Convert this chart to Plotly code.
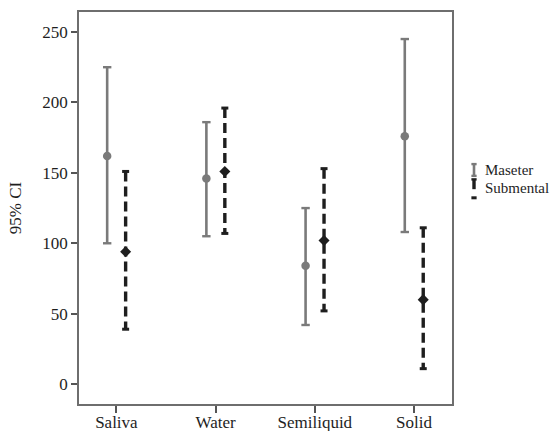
import plotly.graph_objects as go

# Bolus categories and 95% confidence intervals per muscle group
categories = ["Saliva", "Water", "Semiliquid", "Solid"]

maseter_mean = [162, 146, 84, 176]
maseter_low = [100, 105, 42, 108]
maseter_high = [225, 186, 125, 245]

submental_mean = [94, 151, 102, 60]
submental_low = [39, 107, 52, 11]
submental_high = [151, 196, 153, 111]

y_ticks = [0, 50, 100, 150, 200, 250]

GRAY = "#7a7a7a"
BLACK = "#1e1e1e"
FONT = "Liberation Serif"
OFFSET = 0.093  # horizontal shift of each group within a category


def segments(xs, lows, highs):
    """Vertical CI segments (top to bottom) separated by gaps."""
    px, py = [], []
    for x, lo, hi in zip(xs, lows, highs):
        px += [x, x, None]
        py += [hi, lo, None]
    return px, py


idx = list(range(len(categories)))
x_mas = [i - OFFSET for i in idx]
x_sub = [i + OFFSET for i in idx]

fig = go.Figure()

# Maseter: solid gray bars with caps and circle means
mx, my = segments(x_mas, maseter_low, maseter_high)
fig.add_trace(go.Scatter(x=mx, y=my, mode="lines",
                         line=dict(color=GRAY, width=2.6), showlegend=False,
                         hoverinfo="skip"))
fig.add_trace(go.Scatter(x=x_mas + x_mas, y=maseter_low + maseter_high, mode="markers",
                         marker=dict(symbol="line-ew", size=6,
                                     line=dict(color=GRAY, width=2.4)),
                         showlegend=False, hoverinfo="skip"))
fig.add_trace(go.Scatter(x=x_mas, y=maseter_mean, mode="markers", name="Maseter",
                         marker=dict(symbol="circle", size=8.5, color=GRAY),
                         showlegend=False))

# Submental: dashed black bars with caps and diamond means
sx, sy = segments(x_sub, submental_low, submental_high)
fig.add_trace(go.Scatter(x=sx, y=sy, mode="lines",
                         line=dict(color=BLACK, width=3.4, dash="10px,5px"),
                         showlegend=False, hoverinfo="skip"))
fig.add_trace(go.Scatter(x=x_sub + x_sub, y=submental_low + submental_high, mode="markers",
                         marker=dict(symbol="line-ew", size=5,
                                     line=dict(color=BLACK, width=3)),
                         showlegend=False, hoverinfo="skip"))
fig.add_trace(go.Scatter(x=x_sub, y=submental_mean, mode="markers", name="Submental",
                         marker=dict(symbol="diamond", size=8.5, color=BLACK),
                         showlegend=False))

# Key on the right side
shapes = [
    dict(type="line", xref="paper", yref="paper", x0=1.059, x1=1.059, y0=0.582, y1=0.612,
         line=dict(color=GRAY, width=2.6)),
    dict(type="line", xref="paper", yref="paper", x0=1.052, x1=1.066, y0=0.612, y1=0.612,
         line=dict(color=GRAY, width=2.4)),
    dict(type="line", xref="paper", yref="paper", x0=1.052, x1=1.066, y0=0.582, y1=0.582,
         line=dict(color=GRAY, width=2.4)),
    dict(type="line", xref="paper", yref="paper", x0=1.059, x1=1.059, y0=0.548, y1=0.573,
         line=dict(color=BLACK, width=3.4)),
    dict(type="line", xref="paper", yref="paper", x0=1.052, x1=1.066, y0=0.573, y1=0.573,
         line=dict(color=BLACK, width=2.4)),
    dict(type="line", xref="paper", yref="paper", x0=1.052, x1=1.066, y0=0.526, y1=0.526,
         line=dict(color=BLACK, width=3)),
]
annotations = [
    dict(text="Maseter", xref="paper", yref="paper", x=1.082, y=0.597,
         xanchor="left", yanchor="middle", showarrow=False,
         font=dict(family=FONT, size=15, color=BLACK)),
    dict(text="Submental", xref="paper", yref="paper", x=1.082, y=0.551,
         xanchor="left", yanchor="middle", showarrow=False,
         font=dict(family=FONT, size=15, color=BLACK)),
]

fig.update_layout(
    width=550, height=431,
    margin=dict(l=79, r=98, t=12, b=27),
    paper_bgcolor="white", plot_bgcolor="white",
    font=dict(family=FONT, size=17, color=BLACK),
    shapes=shapes, annotations=annotations,
    xaxis=dict(range=[-0.377, 3.383], tickmode="array", tickvals=idx, ticktext=categories,
               ticks="outside", ticklen=7, tickwidth=1.5, tickcolor="#555",
               showline=True, mirror=True, linecolor="#6e6e6e", linewidth=1.5,
               showgrid=False, zeroline=False, automargin=False,
               ticklabelstandoff=-5,
               tickfont=dict(family=FONT, size=17, color=BLACK)),
    yaxis=dict(range=[-14.1, 264.2], tickmode="array", tickvals=y_ticks,
               ticks="outside", ticklen=6, tickwidth=1.5, tickcolor="#555",
               showline=True, mirror=True, linecolor="#6e6e6e", linewidth=1.5,
               showgrid=False, zeroline=False, automargin=False,
               tickfont=dict(family=FONT, size=17, color=BLACK),
               title=dict(text="95% CI", standoff=16,
                          font=dict(family=FONT, size=17, color=BLACK))),
)

fig.write_html("out.html")
